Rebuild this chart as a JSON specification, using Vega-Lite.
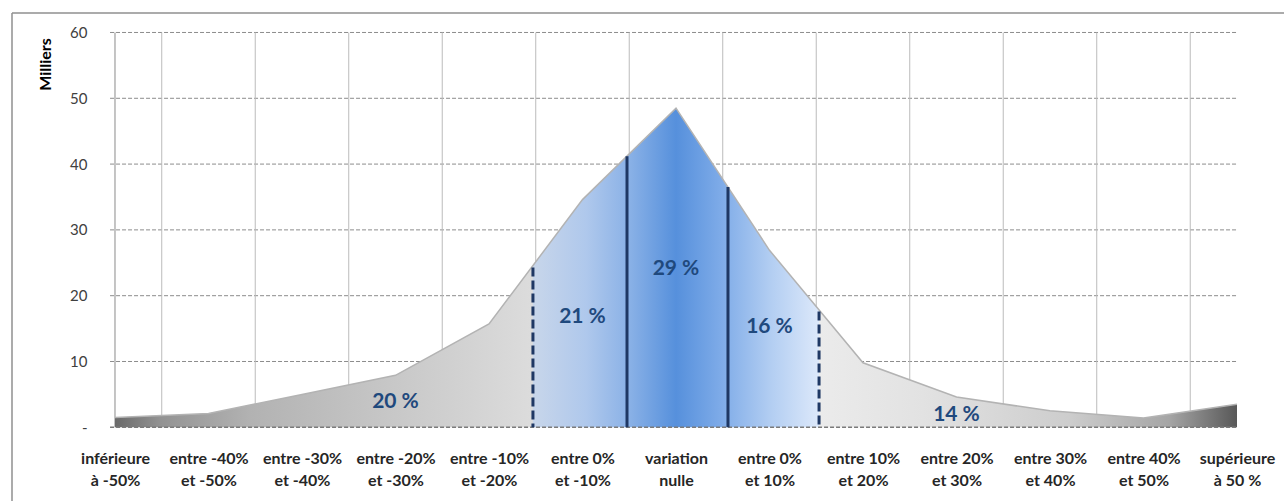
{
  "$schema": "https://vega.github.io/schema/vega-lite/v6.json",
  "width": 1272,
  "height": 488,
  "autosize": {"type": "none"},
  "padding": {"left": 12, "top": 13, "right": 0, "bottom": 0},
  "background": "white",
  "config": {"view": {"stroke": null}, "font": "Lato"},
  "datasets": {
    "cats": [
      {"i": 0, "cat": "inférieure à -50%", "v": 1.5},
      {"i": 1, "cat": "entre -40% et -50%", "v": 2.1},
      {"i": 2, "cat": "entre -30% et -40%", "v": 5.0},
      {"i": 3, "cat": "entre -20% et -30%", "v": 7.9},
      {"i": 4, "cat": "entre -10% et -20%", "v": 15.7},
      {"i": 5, "cat": "entre 0% et -10%", "v": 34.6},
      {"i": 6, "cat": "variation nulle", "v": 48.5},
      {"i": 7, "cat": "entre 0% et 10%", "v": 26.9},
      {"i": 8, "cat": "entre 10% et 20%", "v": 9.8},
      {"i": 9, "cat": "entre 20% et 30%", "v": 4.6},
      {"i": 10, "cat": "entre 30% et 40%", "v": 2.5},
      {"i": 11, "cat": "entre 40% et 50%", "v": 1.4},
      {"i": 12, "cat": "supérieure à 50 %", "v": 3.5}
    ],
    "parts": [
      {"part": "20 %", "i": 3, "y": 3.85},
      {"part": "21 %", "i": 5, "y": 16.8},
      {"part": "29 %", "i": 6, "y": 24.0},
      {"part": "16 %", "i": 7, "y": 15.2},
      {"part": "14 %", "i": 9, "y": 1.9}
    ],
    "dividers": [
      {"x": 4.47, "top": 24.3, "kind": "pointillé"},
      {"x": 5.476, "top": 41.2, "kind": "plein"},
      {"x": 6.556, "top": 36.5, "kind": "plein"},
      {"x": 7.53, "top": 17.6, "kind": "pointillé"}
    ],
    "hgrid": [{"y": 10}, {"y": 20}, {"y": 30}, {"y": 40}, {"y": 50}, {"y": 60}],
    "vgrid": [{"x": 0.5}, {"x": 1.5}, {"x": 2.5}, {"x": 3.5}, {"x": 4.5}, {"x": 5.5}, {"x": 6.5}, {"x": 7.5}, {"x": 8.5}, {"x": 9.5}, {"x": 10.5}, {"x": 11.5}]
  },
  "resolve": {"scale": {"x": "independent"}, "axis": {"x": "independent"}},
  "layer": [
    {
      "layer": [
        {
          "data": {"name": "hgrid"},
          "mark": {"type": "rule", "color": "#8c8c8c", "strokeDash": [4, 2], "strokeWidth": 1},
          "encoding": {
            "y": {"field": "y", "type": "quantitative", "scale": {"domain": [-11.2, 62.96], "nice": false, "zero": false}},
            "x": {"datum": -0.053, "type": "quantitative", "scale": {"domain": [-1.1016, 12.5027], "nice": false, "zero": false}, "axis": null},
            "x2": {"datum": 12.01}
          }
        },
        {
          "data": {"name": "vgrid"},
          "mark": {"type": "rule", "color": "#bcbcbc", "strokeWidth": 1},
          "encoding": {
            "x": {"field": "x", "type": "quantitative", "axis": null},
            "y": {"datum": 0, "type": "quantitative"},
            "y2": {"datum": 60}
          }
        },
        {
          "data": {"values": [{}]},
          "mark": {"type": "rule", "color": "#8a8a8a", "strokeWidth": 1},
          "encoding": {
            "x": {"datum": 0, "type": "quantitative", "axis": null},
            "y": {"datum": 0, "type": "quantitative"},
            "y2": {"datum": 60}
          }
        }
      ]
    },
    {
      "data": {"name": "cats"},
      "mark": {
        "type": "area",
        "interpolate": "linear",
        "color": {
          "gradient": "linear",
          "x1": 0, "y1": 0, "x2": 1, "y2": 0,
          "stops": [
            {"offset": 0.0, "color": "#6a6a6a"},
            {"offset": 0.04, "color": "#929292"},
            {"offset": 0.12, "color": "#b2b2b2"},
            {"offset": 0.25, "color": "#c8c8c8"},
            {"offset": 0.372, "color": "#dcdcdc"},
            {"offset": 0.3725, "color": "#c8d6ea"},
            {"offset": 0.42, "color": "#afc8ec"},
            {"offset": 0.46, "color": "#88b0e6"},
            {"offset": 0.5, "color": "#5690dc"},
            {"offset": 0.54, "color": "#7eabe8"},
            {"offset": 0.585, "color": "#b3cef2"},
            {"offset": 0.627, "color": "#dce8fa"},
            {"offset": 0.628, "color": "#ebebeb"},
            {"offset": 0.72, "color": "#e2e2e2"},
            {"offset": 0.85, "color": "#cdcdcd"},
            {"offset": 0.94, "color": "#a5a5a5"},
            {"offset": 1.0, "color": "#585858"}
          ]
        }
      },
      "encoding": {
        "x": {
          "field": "cat", "type": "nominal", "sort": null, "title": null,
          "scale": {"type": "point", "range": [103, 1225], "padding": 0},
          "axis": {
            "labelExpr": "split(replace(replace(replace(datum.label, ' et ', '|et '), ' à ', '|à '), 'variation nulle', 'variation|nulle'), '|')",
            "offset": -73.7,
            "domain": false, "ticks": false, "grid": false,
            "labelAngle": 0, "labelAlign": "center",
            "labelFont": "Lato", "labelFontSize": 16, "labelFontWeight": "bold",
            "labelColor": "#262626", "labelPadding": 23, "labelLineHeight": 22,
            "labelBaseline": "top", "labelOverlap": false, "labelBound": false, "labelLimit": 0
          }
        },
        "y": {
          "field": "v", "type": "quantitative", "title": "Milliers",
          "scale": {"domain": [-11.2, 62.96], "nice": false, "zero": false},
          "axis": {
            "values": [0, 10, 20, 30, 40, 50, 60],
            "labelExpr": "datum.value === 0 ? '-\u00a0\u00a0\u00a0\u00a0' : datum.label",
            "offset": -103,
            "domain": false, "ticks": false, "grid": false,
            "labelFont": "Lato", "labelFontSize": 15, "labelColor": "#404040", "labelPadding": 28,
            "titleFont": "Lato", "titleFontSize": 16, "titleFontWeight": "bold", "titleColor": "#000000",
            "titleX": -70, "titleY": 51, "titleAngle": -90, "titleAlign": "center", "titleBaseline": "middle"
          }
        },
        "y2": {"datum": 0}
      }
    },
    {
      "layer": [
        {
          "data": {"name": "cats"},
          "mark": {"type": "line", "color": "#b3b3b3", "strokeWidth": 1.5},
          "encoding": {
            "x": {"field": "i", "type": "quantitative", "scale": {"domain": [-1.1016, 12.5027], "nice": false, "zero": false}, "axis": null},
            "y": {"field": "v", "type": "quantitative"}
          }
        },
        {
          "data": {"values": [{}]},
          "mark": {"type": "rule", "color": "#7a7a7a", "strokeDash": [4, 2], "strokeWidth": 1.5},
          "encoding": {
            "y": {"datum": 0, "type": "quantitative"},
            "x": {"datum": -0.053, "type": "quantitative", "axis": null},
            "x2": {"datum": 12.01}
          }
        },
        {
          "data": {"name": "dividers"},
          "mark": {"type": "rule", "color": "#1f3864", "strokeWidth": 3},
          "encoding": {
            "x": {"field": "x", "type": "quantitative", "axis": null},
            "y": {"field": "top", "type": "quantitative"},
            "y2": {"datum": 0},
            "strokeDash": {
              "field": "kind", "type": "nominal", "legend": null,
              "scale": {"domain": ["plein", "pointillé"], "range": [[1, 0], [9, 4]]}
            }
          }
        },
        {
          "data": {"name": "parts"},
          "mark": {"type": "text", "font": "Lato", "fontSize": 21, "fontWeight": "bold", "color": "#1f497d", "align": "center", "baseline": "middle"},
          "encoding": {
            "x": {"field": "i", "type": "quantitative", "axis": null},
            "y": {"field": "y", "type": "quantitative"},
            "text": {"field": "part"}
          }
        },
        {
          "data": {"values": [{}]},
          "mark": {"type": "rule", "color": "#8f8f8f", "strokeWidth": 1.5},
          "encoding": {
            "x": {"datum": -1.1016, "type": "quantitative", "axis": null},
            "y": {"datum": -11.2, "type": "quantitative"},
            "y2": {"datum": 62.96}
          }
        },
        {
          "data": {"values": [{}]},
          "mark": {"type": "rule", "color": "#8f8f8f", "strokeWidth": 1.5},
          "encoding": {
            "y": {"datum": 62.96, "type": "quantitative"},
            "x": {"datum": -1.1016, "type": "quantitative", "axis": null},
            "x2": {"datum": 12.5027}
          }
        }
      ]
    }
  ]
}
